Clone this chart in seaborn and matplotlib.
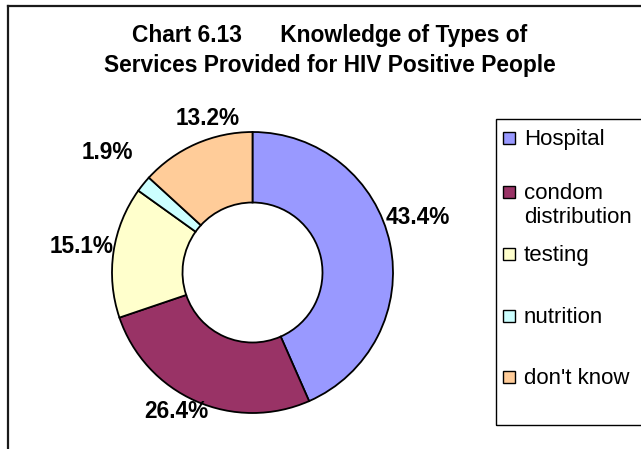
import matplotlib
matplotlib.use("Agg")
import matplotlib.pyplot as plt
from matplotlib.patches import Rectangle
from matplotlib.lines import Line2D
import numpy as np
import seaborn as sns

# Survey responses: which HIV services people know about (% of respondents)
categories = ["Hospital", "condom distribution", "testing", "nutrition", "don't know"]
legend_labels = ["Hospital", "condom\ndistribution", "testing", "nutrition", "don't know"]
shares = [43.4, 26.4, 15.1, 1.9, 13.2]
colors = ["#9999FF", "#993366", "#FFFFCC", "#CCFFFF", "#FFCC99"]

title_line1 = "Chart 6.13      Knowledge of Types of"
title_line2 = "Services Provided for HIV Positive People"

sns.set_theme(style="white")
plt.rcParams["font.family"] = ["Liberation Sans", "DejaVu Sans"]

W, H = 641, 449
fig = plt.figure(figsize=(W / 100, H / 100), dpi=100)
fig.patch.set_facecolor("white")


def fx(x):
    return x / W


def fy(y):
    return 1 - y / H


# doughnut, drawn in a square axes measured in pixels
cx, cy = 252.5, 272.5
R = 140.5
hole = 70.0
half = 160
ax = fig.add_axes([fx(cx - half), fy(cy + half), 2 * half / W, 2 * half / H])
palette = sns.color_palette(colors)
wedges, _ = ax.pie(shares, colors=palette, startangle=90, counterclock=False,
                   radius=R,
                   wedgeprops=dict(width=R - hole, edgecolor="black", linewidth=1.3))
ax.set_xlim(-half, half)
ax.set_ylim(-half, half)
ax.set_aspect("equal")
ax.axis("off")

# value labels: nudged from the middle of each wedge's outer edge
label_nudge = [(28, 26), (-20, -10), (-32, 5), (-36, 31), (12, 25)]
for w, val, (dx, dy) in zip(wedges, shares, label_nudge):
    mid = np.deg2rad((w.theta1 + w.theta2) / 2)
    anchor = (R * np.cos(mid), R * np.sin(mid))
    ax.annotate(f"{val:.1f}%", xy=anchor, xytext=(dx, dy),
                textcoords="offset pixels", ha="center", va="center",
                fontsize=16.3, fontweight="bold", color="black",
                annotation_clip=False)

# outer chart-area border: only its top and left edges fall inside the image
frame_kw = dict(transform=fig.transFigure, color="#1a1a1a", linewidth=1.6,
                solid_capstyle="projecting", clip_on=False, zorder=10)
fig.add_artist(Line2D([fx(8), fx(W + 20)], [fy(5.5), fy(5.5)], **frame_kw))
fig.add_artist(Line2D([fx(8), fx(8)], [fy(5.5), fy(H + 20)], **frame_kw))

# title
fig.text(fx(330), fy(42), title_line1, ha="center", va="baseline",
         fontsize=16.4, fontweight="bold", color="black")
fig.text(fx(330), fy(72), title_line2, ha="center", va="baseline",
         fontsize=16.4, fontweight="bold", color="black")

# legend box, running off the right edge
fig.add_artist(Rectangle((fx(496), fy(425)), fx(700) - fx(496), (425 - 119) / H,
                         transform=fig.transFigure, fill=False,
                         edgecolor="black", linewidth=1.0, clip_on=False))
legend_baselines = [145, 199, 261, 323, 384]
line_step = 24
for lab, col, yb in zip(legend_labels, palette, legend_baselines):
    fig.add_artist(Rectangle((fx(503), fy(yb - 1)), 12 / W, 12 / H,
                             transform=fig.transFigure, facecolor=col,
                             edgecolor="black", linewidth=1.0))
    for k, line in enumerate(lab.split("\n")):
        fig.text(fx(524), fy(yb + k * line_step), line, ha="left", va="baseline",
                 fontsize=16.0, color="black")

fig.savefig("out.png", dpi=100, facecolor="white")
